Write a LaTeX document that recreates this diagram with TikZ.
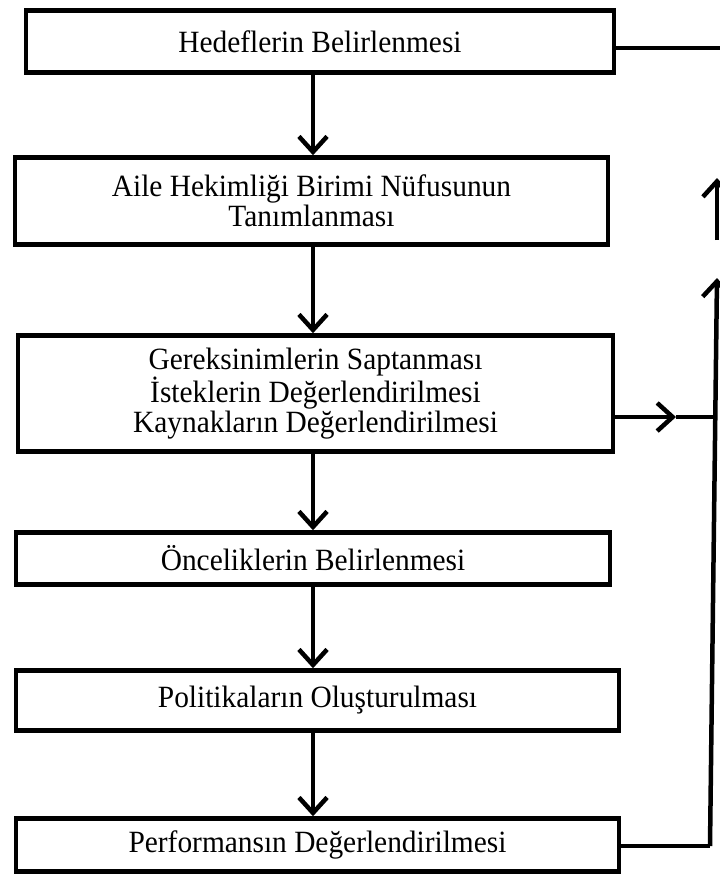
\documentclass[tikz,border=0pt]{standalone}
\usepackage{fontspec}
\setmainfont{Liberation Serif}[FakeStretch=0.95]
\usepackage{tikz}
\usetikzlibrary{arrows.meta,positioning,calc}

\begin{document}
\begin{tikzpicture}[x=0.025cm, y=-0.025cm,
  box/.style={draw, line width=3.2pt, align=center, inner sep=0pt,
    font=\fontsize{22}{19}\selectfont},
  flow/.style={line width=3.2pt, -{Straight Barb[length=11pt,width=20pt]}},
  link/.style={line width=3.2pt}]

\useasboundingbox (0,0) rectangle (720,877);

% Steps of the planning process
\node[box, minimum width=14.7cm, minimum height=1.55cm] (hedef) at (320,41.5) {Hedeflerin Belirlenmesi};
\node[box, minimum width=14.825cm, minimum height=2.175cm] (nufus) at (311.5,201) {Aile Hekimliği Birimi Nüfusunun\\Tanımlanması};
\node[box, minimum width=14.875cm, minimum height=2.9cm] (gerek) at (315.5,393.5) {Gereksinimlerin Saptanması\\İsteklerin Değerlendirilmesi\\Kaynakların Değerlendirilmesi};
\node[box, minimum width=14.85cm, minimum height=1.3cm] (oncelik) at (313,558.5) {Önceliklerin Belirlenmesi};
\node[box, minimum width=15.075cm, minimum height=1.5cm] (politika) at (317.5,700.5) {Politikaların Oluşturulması};
\node[box, minimum width=15.075cm, minimum height=1.325cm] (perf) at (317.5,845) {Performansın Değerlendirilmesi};

% Main flow
\coordinate (spine) at (313,0);
\draw[flow] (hedef.south -| spine) -- (nufus.north -| spine);
\draw[flow] (nufus.south -| spine) -- (gerek.north -| spine);
\draw[flow] (gerek.south -| spine) -- (oncelik.north -| spine);
\draw[flow] (oncelik.south -| spine) -- (politika.north -| spine);
\draw[flow] (politika.south -| spine) -- (perf.north -| spine);

% Feedback on the right
\coordinate (fbtop) at (720,48);
\coordinate (fbmid) at (715,417);
\coordinate (tipmid) at (676,417);
\coordinate (fbbot) at (710,846);
\coordinate (fbup) at (717,278);
\coordinate (upa) at (717,240);
\coordinate (upb) at (717,178);

\draw[link] (hedef.east |- fbtop) -- (fbtop);
\draw[flow] (gerek.east |- fbmid) -- (tipmid);
\draw[link] (tipmid) -- (fbmid);
\draw[link] (perf.east |- fbbot) -- (fbbot);
\draw[flow] (fbbot) -- (fbup);
\draw[flow] (upa) -- (upb);

\end{tikzpicture}
\end{document}
